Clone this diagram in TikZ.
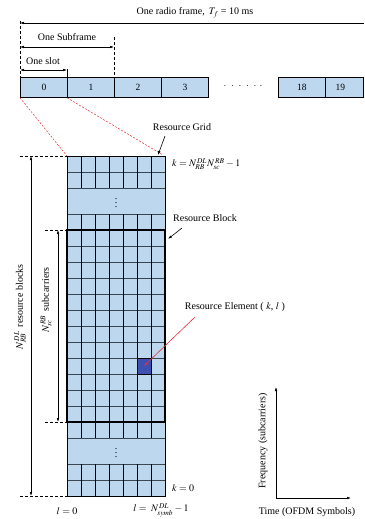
\documentclass[tikz,border=0pt]{standalone}
\usepackage{mathptmx}
\usepackage{fontspec}
\setmainfont{Liberation Serif}
\usetikzlibrary{arrows.meta}
\definecolor{cellblue}{HTML}{BDD7EE}
\definecolor{elemblue}{HTML}{3F51B0}
\definecolor{rowgray}{HTML}{3C4650}
\definecolor{linkred}{HTML}{E8303A}

\begin{document}
\begin{tikzpicture}[x=1pt, y=-1pt,
  dim/.style={{Latex[length=4pt,width=2.6pt]}-{Latex[length=4pt,width=2.6pt]}, line width=0.6pt},
  ptr/.style={-{Latex[length=4pt,width=2.6pt]}, line width=0.6pt},
  guide/.style={dash pattern=on 3pt off 2pt, line width=0.6pt},
  zoomline/.style={linkred, dash pattern=on 2pt off 1.5pt, line width=0.5pt},
  slotbox/.style={draw, fill=cellblue, line width=0.8pt, minimum width=47pt,
    minimum height=20pt, inner sep=0pt, anchor=north west,
    font=\fontsize{9.5}{9.5}\selectfont},
  lbl/.style={font=\fontsize{10}{11}\selectfont, inner sep=1pt}
]

% === Wymiary ===
\useasboundingbox (0,0) rectangle (364,519);

% === Ramka radiowa ===
\foreach \i in {0,...,3} {
  \node[slotbox] (s\i) at ({20+47*\i},77) {\i};
}
\node[lbl] (sdots) at (243,86) {$\cdot\;\,\cdot\;\,\cdot\;\,\cdot\;\,\cdot\;\,\cdot$};
\node[slotbox] (s18) at (278,77) {18};
\node[slotbox, minimum width=38pt] (s19) at (325,77) {\hspace{-8pt}19};

% Wymiary czasowe
\coordinate (frameL) at (20,23);
\coordinate (frameR) at (364,23);
\coordinate (subL) at (20,47);
\coordinate (subR) at (114,47);
\coordinate (slotL) at (20,70);
\coordinate (slotR) at (67,70);
\draw[ptr] (frameR) -- (frameL);
\draw[dim] (subL) -- (subR);
\draw[dim] (slotL) -- (slotR);
\node[lbl] (framelbl) at (195,13) {One radio frame,\, $T_f$ = 10 ms};
\node[lbl] (sublbl) at (67,37) {One Subframe};
\node[lbl] (slotlbl) at (43,61) {One slot};

% Linie pomocnicze
\coordinate (gdA) at (20,21);
\coordinate (gdB) at (114,37);
\coordinate (gdC) at (67,69);
\draw[guide] (gdA) -- (s0.north west);
\draw[guide] (gdB) -- (s2.north west);
\draw[line width=0.6pt] (gdC) -- (s1.north west);

% === Siatka zasobow ===
\coordinate (gtl) at (67,156);
\coordinate (gtr) at (165,156);
\coordinate (gbl) at (67,496);
\coordinate (gbr) at (165,496);
\coordinate (rbtl) at (67,230);
\coordinate (rbbl) at (67,422);
\coordinate (rbbr) at (165,422);

% Powiekszenie (czerwone)
\coordinate (zoomR) at (163,155);
\draw[zoomline] (s0.south west) -- (gtl);
\draw[zoomline] (s1.south west) -- (zoomR);

\fill[cellblue] (gtl) rectangle (gbr);
\foreach \y in {172,188,214,438,464,480} {
  \draw[rowgray, line width=0.8pt] (67,\y) -- (165,\y);
}
\foreach \y in {230,246,...,422} {
  \draw[rowgray, line width=0.8pt] (67,\y) -- (165,\y);
}
\foreach \x in {81,95,...,151} {
  \draw[line width=0.7pt] (\x,156) -- (\x,188);
  \draw[line width=0.7pt] (\x,214) -- (\x,438);
  \draw[line width=0.7pt] (\x,464) -- (\x,496);
}
% Element zasobu
\fill[elemblue] (137,358) rectangle (151,374);
\draw[line width=0.7pt] (137,358) rectangle (151,374);

\draw[line width=1pt] (gtl) rectangle (gbr);
\draw[line width=1.3pt] (rbtl) rectangle (rbbr);

\node[lbl] (vdotsA) at (116,200) {$\vdots$};
\node[lbl] (vdotsB) at (116,450) {$\vdots$};

% === Wymiary pionowe ===
\coordinate (gridTopL) at (20,156);
\coordinate (gridBotL) at (20,496);
\coordinate (rbTopL) at (45,230);
\coordinate (rbBotL) at (45,422);
\coordinate (allT) at (31,156);
\coordinate (allB) at (31,496);
\coordinate (scT) at (58,230);
\coordinate (scB) at (58,422);
\draw[guide] (gridTopL) -- (gtl);
\draw[guide] (gridBotL) -- (gbl);
\draw[guide] (rbTopL) -- (rbtl);
\draw[guide] (rbBotL) -- (rbbl);
\draw[dim] (allT) -- (allB);
\draw[dim] (scT) -- (scB);
\node[lbl, rotate=90] (rblbl) at (20,307)
  {$N_{RB}^{\,DL}$\, resource blocks};
\node[lbl, rotate=90] (sclbl) at (46,300)
  {$N_{sc}^{\,RB}$\, subcarriers};

% === Opisy ===
\node[lbl, anchor=west] (ktop) at (171,164) {$k = N_{RB}^{\,DL} N_{sc}^{\,RB} - 1$};
\node[lbl, anchor=west] (kzero) at (171,488) {$k = 0$};
\node[lbl] (lzero) at (67,511) {$l = 0$};
\node[lbl] (lend) at (161,510) {$l = \;N_{symb}^{\,DL} - 1$};

\node[lbl] (rgrid) at (182,127) {Resource Grid};
\coordinate (rgFrom) at (165,136);
\coordinate (rgTip) at (158,155);
\draw[ptr] (rgFrom) -- (rgTip);

\node[lbl] (rblock) at (205,218) {Resource Block};
\coordinate (rbFrom) at (182,228);
\coordinate (rbTip) at (168,239);
\draw[ptr] (rbFrom) -- (rbTip);

\node[lbl] (relem) at (235,307) {Resource Element ( $k$, $l$ )};
\coordinate (reFrom) at (195,317);
\coordinate (reTip) at (144,366);
\draw[ptr, linkred] (reFrom) -- (reTip);

% === Osie ===
\coordinate (origin) at (276,498);
\coordinate (freqTop) at (276,387);
\coordinate (timeEnd) at (351,498);
\draw[ptr] (origin) -- (freqTop);
\draw[ptr] (origin) -- (timeEnd);
\node[lbl, rotate=90] (freqlbl) at (263,441) {Frequency (subcarriers)};
\node[lbl] (timelbl) at (307,512) {Time (OFDM Symbols)};

\end{tikzpicture}
\end{document}
